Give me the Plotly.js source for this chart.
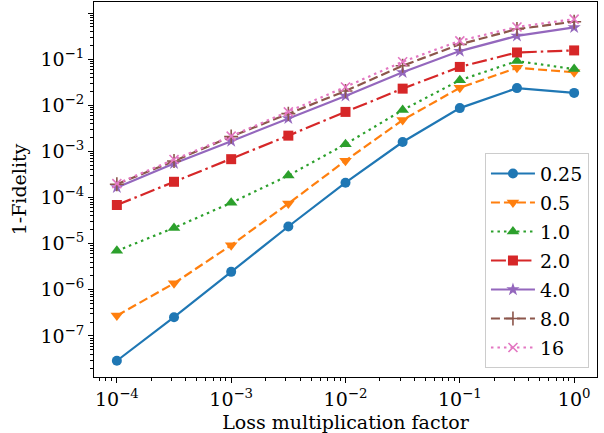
<!DOCTYPE html>
<html>
<head>
<meta charset="utf-8">
<script src="https://cdn.plot.ly/plotly-3.0.1.min.js"></script>
<style>html,body{margin:0;padding:0;background:#fff;}#chart{width:604px;height:433px;}</style>
</head>
<body>
<div id="chart"></div>
<script>
// Loss multiplication factor (x)
const lossFactor = [1e-4, 3.162e-4, 1e-3, 3.162e-3, 1e-2, 3.162e-2, 1e-1, 3.162e-1, 1];

// Series labels
const seriesNames = ['0.25', '0.5', '1.0', '2.0', '4.0', '8.0', '16'];

// 1-Fidelity values per series
const s025 = [2.9e-8, 2.55e-7, 2.45e-6, 2.36e-5, 2.1e-4, 1.6e-3, 8.7e-3, 2.36e-2, 1.86e-2];
const s05  = [2.76e-7, 1.38e-6, 9.3e-6, 7.4e-5, 6.3e-4, 4.8e-3, 2.4e-2, 6.5e-2, 5.2e-2];
const s1   = [7.0e-6, 2.2e-5, 7.7e-5, 3.0e-4, 1.44e-3, 7.9e-3, 3.5e-2, 9.1e-2, 6.1e-2];
const s2   = [6.9e-5, 2.2e-4, 6.8e-4, 2.2e-3, 7.2e-3, 2.3e-2, 6.8e-2, 0.14, 0.155];
const s4   = [1.66e-4, 5.5e-4, 1.67e-3, 5.2e-3, 1.6e-2, 5.2e-2, 0.15, 0.32, 0.49];
const s8   = [1.95e-4, 6.2e-4, 2.1e-3, 6.6e-3, 2.05e-2, 7.2e-2, 0.21, 0.45, 0.65];
const s16  = [2.0e-4, 6.7e-4, 2.15e-3, 7.2e-3, 2.5e-2, 8.8e-2, 0.25, 0.50, 0.74];

// Tick labels
const xTickVals = [1e-4, 1e-3, 1e-2, 1e-1, 1];
const xTickText = ['10<sup>−4</sup>', '10<sup>−3</sup>', '10<sup>−2</sup>', '10<sup>−1</sup>', '10<sup>0</sup>'];
const yTickVals = [1e-7, 1e-6, 1e-5, 1e-4, 1e-3, 1e-2, 1e-1, 1];
const yTickText = ['10<sup>−7</sup>', '10<sup>−6</sup>', '10<sup>−5</sup>', '10<sup>−4</sup>', '10<sup>−3</sup>', '10<sup>−2</sup>', '10<sup>−1</sup>', '10<sup>0</sup>'];

const allSeries = [s025, s05, s1, s2, s4, s8, s16];
const colors = ['#1f77b4', '#ff7f0e', '#2ca02c', '#d62728', '#9467bd', '#8c564b', '#e377c2'];
const dashes = ['solid', '9px,4px', '2.5px,4px', '15px,4px,2.5px,4px', 'solid', '9px,4px', '2.5px,4px'];
const symbols = ['circle', 'triangle-down', 'triangle-up', 'square', 'star', 'cross-thin', 'x-thin'];
const msizes = [10, 11, 11, 10, 10, 10, 9];

const FONT = '"DejaVu Serif", serif';

const traces = allSeries.map((ys, i) => {
  const thin = symbols[i].endsWith('-thin');
  return {
    x: lossFactor,
    y: ys,
    type: 'scatter',
    mode: 'lines+markers',
    name: '<span style="font-size:19px">' + seriesNames[i] + '</span>',
    line: {color: colors[i], width: 2.2, dash: dashes[i]},
    marker: {
      symbol: symbols[i],
      size: msizes[i],
      color: colors[i],
      line: {color: colors[i], width: thin ? 1.6 : 0}
    }
  };
});

const minorCfg = {ticks: 'outside', ticklen: 3, tickwidth: 1, tickcolor: '#000', dtick: 'D1', showgrid: false};

const layout = {
  width: 604,
  height: 433,
  margin: {l: 94, r: 7, t: 2, b: 56},
  paper_bgcolor: '#fff',
  plot_bgcolor: '#fff',
  font: {family: FONT, size: 19, color: '#000'},
  showlegend: true,
  legend: {
    x: 0.984, y: 0.024, xanchor: 'right', yanchor: 'bottom',
    bgcolor: 'rgba(255,255,255,0.8)',
    bordercolor: '#cccccc', borderwidth: 1,
    itemwidth: 44,
    font: {family: FONT, size: 20, color: '#000'}
  },
  xaxis: {
    type: 'log',
    range: [-4.2, 0.2],
    tickmode: 'array',
    tickvals: xTickVals,
    ticktext: xTickText,
    ticks: 'outside', ticklen: 5, tickwidth: 1, tickcolor: '#000',
    minor: minorCfg,
    showgrid: false, zeroline: false,
    showline: true, linecolor: '#000', linewidth: 1, mirror: true,
    tickfont: {family: FONT, size: 19},
    title: {text: 'Loss multiplication factor', font: {family: FONT, size: 19}, standoff: 6}
  },
  yaxis: {
    type: 'log',
    range: [-7.89, 0.24],
    tickmode: 'array',
    tickvals: yTickVals,
    ticktext: yTickText,
    ticks: 'outside', ticklen: 5, tickwidth: 1, tickcolor: '#000',
    minor: minorCfg,
    showgrid: false, zeroline: false,
    showline: true, linecolor: '#000', linewidth: 1, mirror: true,
    tickfont: {family: FONT, size: 19},
    title: {text: '1-Fidelity', font: {family: FONT, size: 19}, standoff: 8}
  }
};

Plotly.newPlot('chart', traces, layout, {staticPlot: true, displayModeBar: false});
</script>
</body>
</html>
